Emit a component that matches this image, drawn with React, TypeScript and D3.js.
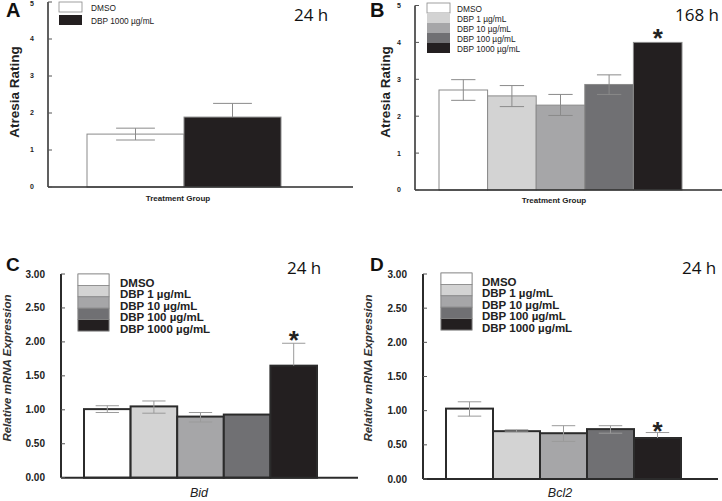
import React from 'react';
import * as d3 from 'd3';

const CATS_A = ['DMSO', 'DBP 1000 µg/mL'];
const CATS_5 = ['DMSO', 'DBP 1 µg/mL', 'DBP 10 µg/mL', 'DBP 100 µg/mL', 'DBP 1000 µg/mL'];
const FILLS_A = ['#ffffff', '#231f20'];
const FILLS_5 = ['#ffffff', '#d3d3d3', '#a6a6a8', '#707073', '#231f20'];

const A_MEAN = [1.43, 1.89];
const A_HI = [1.59, 2.26];
const A_LO = [1.27, 1.89];

const B_MEAN = [2.71, 2.55, 2.3, 2.86, 4.0];
const B_HI = [2.99, 2.83, 2.59, 3.12, 4.0];
const B_LO = [2.43, 2.26, 2.02, 2.59, 4.0];

const C_MEAN = [1.01, 1.05, 0.9, 0.93, 1.65];
const C_HI = [1.06, 1.13, 0.96, 0.93, 1.98];
const C_LO = [0.96, 0.95, 0.82, 0.93, 1.65];

const D_MEAN = [1.03, 0.7, 0.67, 0.73, 0.6];
const D_HI = [1.13, 0.72, 0.78, 0.78, 0.68];
const D_LO = [0.92, 0.69, 0.55, 0.67, 0.6];

const TICKS_AB = [0, 1, 2, 3, 4, 5];
const TICKS_CD = [0, 0.5, 1, 1.5, 2, 2.5, 3];

const SANS = '"Liberation Sans", Arial, sans-serif';
const CAL = '"Open Sans", sans-serif';

type P = any;

function Panel({ p }: { p: P }) {
  const x = d3.scaleBand<string>().domain(p.cats).range([p.bx0, p.bx1]).paddingInner(0).paddingOuter(0);
  const y = d3.scaleLinear().domain([0, p.ymax]).range([p.y0, p.y1]);
  const fmt = p.style === 'cd' ? d3.format('.2f') : d3.format('d');
  const cd = p.style === 'cd';
  const bw = x.bandwidth();
  const capW = bw * p.capFrac;
  return (
    <g>
      {p.cats.map((c: string, i: number) => (
        <rect key={c} x={x(c)} y={y(p.mean[i])} width={bw} height={y(0) - y(p.mean[i])}
          fill={p.fills[i]} stroke={cd ? '#2b2b2b' : '#8a8a8a'} strokeWidth={cd ? 2 : 1} />
      ))}
      {p.cats.map((c: string, i: number) => {
        const cx = (x(c) as number) + bw / 2;
        const hi = p.hi[i], lo = p.lo[i];
        if (hi === lo) return null;
        return (
          <g key={'e' + c} stroke={cd ? '#9a9a9a' : '#8a8a8a'} strokeWidth={1}>
            <line x1={cx} x2={cx} y1={y(hi)} y2={y(lo)} />
            <line x1={cx - capW / 2} x2={cx + capW / 2} y1={y(hi)} y2={y(hi)} />
            {lo !== p.mean[i] && <line x1={cx - capW / 2} x2={cx + capW / 2} y1={y(lo)} y2={y(lo)} />}
          </g>
        );
      })}
      <line x1={p.ax} x2={p.ax} y1={y(p.ymax)} y2={y(0)} stroke="#2b2b2b" strokeWidth={cd ? 2 : 1.5} />
      <line x1={p.ax} x2={p.axEnd} y1={y(0)} y2={y(0)} stroke="#2b2b2b" strokeWidth={cd ? 2 : 1.5} />
      {p.ticks.map((t: number) => (
        <g key={t}>
          <line x1={p.ax} x2={p.ax + 4} y1={y(t)} y2={y(t)} stroke="#555" strokeWidth={1} />
          <text x={p.ax - 16} y={Math.max(y(t), 4)} dy="0.35em" textAnchor={cd ? 'end' : 'middle'}
            fontFamily={SANS} fontWeight="bold" fontSize={cd ? 10 : 7} fill="#222">{fmt(t)}</text>
        </g>
      ))}
      <text transform={`translate(${p.ylx},${p.yly}) rotate(-90)`} textAnchor="middle"
        fontFamily={SANS} fontWeight={cd ? 600 : 'bold'} fontStyle={cd ? 'italic' : 'normal'}
        fontSize={cd ? 11.5 : 13.5} fill={cd ? '#333' : '#222'}>{p.ylabel}</text>
      <text x={p.xlx} y={p.xly} textAnchor="middle" fontFamily={SANS}
        fontWeight={cd ? 'normal' : 'bold'} fontStyle={cd ? 'italic' : 'normal'}
        fontSize={cd ? 12.5 : 8} fill="#222">{p.xlabel}</text>
      {cd && (
        <rect x={p.lx} y={p.ly} width={p.lw} height={p.lstep * p.cats.length} fill="none" stroke="#888" strokeWidth={0.8} />
      )}
      {p.cats.map((c: string, i: number) => (
        <g key={'l' + c}>
          <rect x={p.lx} y={p.ly + i * p.lstep} width={p.lw} height={p.lh}
            fill={p.fills[i]} stroke={i === 0 || cd ? '#888' : 'none'} strokeWidth={0.8} />
          <text x={p.ltx} y={p.ly + i * p.lstep + p.lbase} fontFamily={SANS}
            fontWeight={cd ? 'bold' : 'normal'} fontSize={cd ? 11.5 : 8.3} fill="#222">{c}</text>
        </g>
      ))}
      <text x={p.letx} y={p.lety} fontFamily={SANS} fontWeight="bold" fontSize={cd ? 19 : 20} fill="#111">{p.letter}</text>
      <text x={p.tx} y={p.ty} fontFamily={CAL} fontSize={17} fill="#111">{p.time}</text>
      {p.star != null && (
        <text x={(x(p.cats[p.star]) as number) + bw / 2} y={y(p.hi[p.star]) - p.starGap}
          textAnchor="middle" fontFamily={SANS} fontWeight="bold" fontSize={26} fill="#222">*</text>
      )}
    </g>
  );
}

const PANELS: P[] = [
  {
    letter: 'A', style: 'ab', cats: CATS_A, fills: FILLS_A, mean: A_MEAN, hi: A_HI, lo: A_LO,
    bx0: 87, bx1: 281, ax: 48, axEnd: 353, y0: 187, y1: 2, ymax: 5, ticks: TICKS_AB, capFrac: 0.4,
    ylabel: 'Atresia Rating', ylx: 19, yly: 92, xlabel: 'Treatment Group', xlx: 178, xly: 201,
    lx: 59, ly: 2, lw: 23, lh: 10, lstep: 13, ltx: 91, lbase: 9,
    letx: 6, lety: 17, time: '24 h', tx: 294, ty: 21, star: null,
  },
  {
    letter: 'B', style: 'ab', cats: CATS_5, fills: FILLS_5, mean: B_MEAN, hi: B_HI, lo: B_LO,
    bx0: 439, bx1: 682, ax: 415, axEnd: 722, y0: 190, y1: 5.5, ymax: 5, ticks: TICKS_AB, capFrac: 0.5,
    ylabel: 'Atresia Rating', ylx: 390, yly: 92, xlabel: 'Treatment Group', xlx: 554, xly: 203,
    lx: 427, ly: 3, lw: 23, lh: 10, lstep: 10, ltx: 457, lbase: 9,
    letx: 370, lety: 17, time: '168 h', tx: 675, ty: 21, star: 4, starGap: -5,
  },
  {
    letter: 'C', style: 'cd', cats: CATS_5, fills: FILLS_5, mean: C_MEAN, hi: C_HI, lo: C_LO,
    bx0: 84, bx1: 317, ax: 61, axEnd: 358, y0: 477.7, y1: 274, ymax: 3, ticks: TICKS_CD, capFrac: 0.5,
    ylabel: 'Relative mRNA Expression', ylx: 11, yly: 368, xlabel: 'Bid', xlx: 199, xly: 497,
    lx: 78, ly: 274, lw: 31, lh: 11.4, lstep: 11.4, ltx: 120, lbase: 13,
    letx: 6, lety: 271, time: '24 h', tx: 287, ty: 274, star: 4, starGap: -6,
  },
  {
    letter: 'D', style: 'cd', cats: CATS_5, fills: FILLS_5, mean: D_MEAN, hi: D_HI, lo: D_LO,
    bx0: 446, bx1: 681, ax: 423, axEnd: 718, y0: 479, y1: 274, ymax: 3, ticks: TICKS_CD, capFrac: 0.5,
    ylabel: 'Relative mRNA Expression', ylx: 372, yly: 368, xlabel: 'Bcl2', xlx: 560, xly: 497,
    lx: 441, ly: 273, lw: 31, lh: 11.4, lstep: 11.4, ltx: 482, lbase: 13,
    letx: 370, lety: 271, time: '24 h', tx: 682, ty: 274, star: 4, starGap: -7,
  },
];

export default function App() {
  return (
    <svg width={722} height={501} style={{ position: 'absolute', left: 0, top: 0, background: '#fff' }}>
      <rect width={722} height={501} fill="#fff" />
      {PANELS.map((p) => <Panel key={p.letter} p={p} />)}
    </svg>
  );
}
